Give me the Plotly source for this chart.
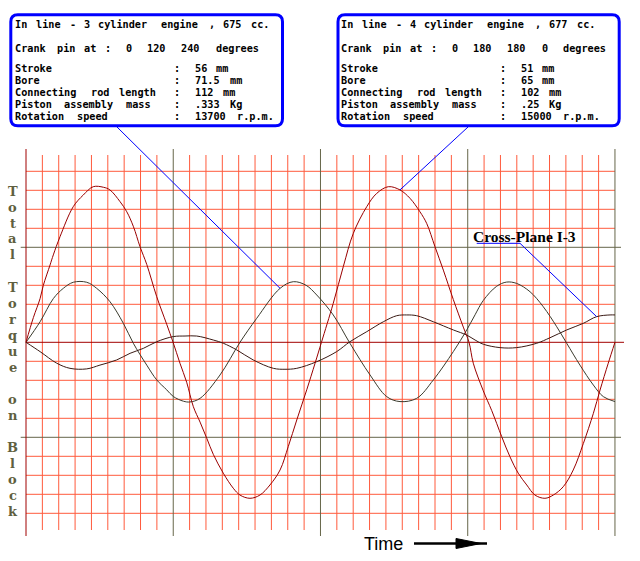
import re
import plotly.graph_objects as go

# ---------------- data (time in grid cells, torque in grid units) ----------------
# In-line 4 cylinder (red curve)
t_i4 = [0, 0.45, 0.86, 1.06, 1.47, 1.67, 2.08, 2.89, 3.50, 4.11,
        4.73, 5.13, 5.75, 6.16, 6.57, 6.97, 7.38, 7.99, 8.60, 8.99,
        9.41, 9.82, 10.23, 10.64, 11.05, 11.45, 12.06, 12.67, 13.08, 13.69,
        14.30, 14.91, 15.53, 16.03, 16.55, 17.16, 17.67, 18.06, 18.78, 19.40,
        20.01, 20.83, 21.44, 22.15, 22.86, 23.47, 24.08, 24.49, 25.00, 25.51,
        26.12, 26.73, 27.08, 27.34, 27.95, 28.47, 29.08, 29.58, 30.09, 30.61,
        31.11, 31.72, 32.23, 32.84, 33.45, 34.07, 34.68, 35.09, 35.59, 36.00]
torque_i4 = [0, 1.3, 2.3, 3.0, 4.07, 4.6, 5.56, 7.14, 7.75, 8.19,
             8.16, 8.02, 7.4, 6.87, 6.08, 5.03, 4.1, 2.4, 0.95, 0,
             -1.1, -2.1, -3.39, -4.2, -5.05, -5.9, -6.89, -7.68, -8.04, -8.21,
             -8.04, -7.51, -6.72, -5.49, -4.09, -2.5, -1.1, 0, 2.05, 4.0,
             5.74, 7.14, 7.84, 8.19, 8.02, 7.58, 6.87, 6.26, 5.03, 3.8,
             2.25, 0.8, 0, -1.1, -2.55, -3.6, -4.97, -6.02, -6.89, -7.51,
             -8.04, -8.21, -8.04, -7.6, -6.72, -5.32, -3.74, -2.51, -1.1, 0]

# In-line 3 cylinder
t_i3 = [0, 0.86, 1.67, 2.28, 2.89, 3.71, 4.32, 5.13, 5.95, 6.56,
        7.38, 7.99, 8.60, 9.00, 9.62, 10.02, 10.64, 11.86, 13.08, 14.10,
        15.53, 16.34, 17.12, 17.77, 18.78, 19.80, 21.03, 22.05, 22.86, 23.88,
        24.90, 26.12, 26.94, 27.45, 27.95, 28.77, 29.38, 29.99, 30.81, 31.62,
        32.44, 33.05, 33.86, 34.68, 35.29, 36.00]
torque_i3 = [0, 1.08, 2.3, 2.84, 3.16, 3.16, 2.84, 2.14, 1.0, -0.05,
             -1.2, -1.98, -2.5, -2.85, -3.1, -3.14, -2.95, -1.72, 0, 1.26,
             2.84, 3.19, 3.0, 2.49, 1.44, -0.05, -1.72, -2.86, -3.12, -2.95,
             -1.98, -0.49, 0.65, 1.45, 2.2, 2.95, 3.17, 3.1, 2.66, 1.87,
             0.82, -0.05, -1.2, -2.25, -2.86, -3.12]

# Cross-plane in-line 3
t_cp3 = [0, 0.86, 1.88, 2.69, 3.71, 4.52, 5.54, 6.36, 7.17, 7.99,
         9.00, 9.72, 10.43, 11.45, 12.06, 12.88, 13.89, 15.12, 15.83, 16.55,
         17.77, 18.99, 19.80, 20.83, 21.84, 22.66, 23.27, 23.88, 24.90, 26.12,
         26.94, 27.45, 27.95, 28.97, 29.99, 31.22, 32.03, 33.05, 34.07, 34.88,
         35.70, 36.00]
torque_cp3 = [0, -0.49, -1.1, -1.37, -1.4, -1.2, -0.93, -0.58, -0.32, 0.03,
              0.3, 0.33, 0.33, 0.12, -0.05, -0.4, -0.93, -1.37, -1.42, -1.37,
              -1.02, -0.49, 0.03, 0.56, 1.08, 1.4, 1.44, 1.4, 1.08, 0.65,
              0.38, 0.12, -0.1, -0.28, -0.28, -0.05, 0.24, 0.65, 1.0, 1.35,
              1.44, 1.44]

box_i3_title = "In line - 3 cylinder engine , 675 cc."
box_i3_crank = "Crank pin at :  0  120  240  degrees"
box_i3_rows = [("Stroke", "56 mm"), ("Bore", "71.5 mm"),
               ("Connecting rod length", "112 mm"),
               ("Piston assembly mass", ".333 Kg"),
               ("Rotation speed", "13700 r.p.m.")]

box_i4_title = "In line - 4 cylinder engine , 677 cc."
box_i4_crank = "Crank pin at :  0  180  180  0  degrees"
box_i4_rows = [("Stroke", "51 mm"), ("Bore", "65 mm"),
               ("Connecting rod length", "102 mm"),
               ("Piston assembly mass", ".25 Kg"),
               ("Rotation speed", "15000 r.p.m.")]

ylabel_words = ["Total", "Torque", "on", "Block"]
cross_label = "Cross-Plane I-3"
x_label = "Time"

# ---------------- layout helpers (pixel -> axis units) ----------------
W, H = 640, 561
X0, DX = 26.0, 16.36
Y0, DY = 342.3, 19.0


def X(px):
    return (px - X0) / DX


def Y(py):
    return (Y0 - py) / DY


RED = "#ff5a3c"
GRAY = "#66664a"
DARKRED = "#a00000"
OLIVE = "#5f5f40"
BLUE = "#0000ff"

fig = go.Figure()

fig.add_trace(go.Scatter(x=t_i3, y=torque_i3, mode="lines",
                         line=dict(color="#3a3a2c", width=1, shape="spline"),
                         hoverinfo="skip", showlegend=False))
fig.add_trace(go.Scatter(x=t_cp3, y=torque_cp3, mode="lines",
                         line=dict(color="#3a1a14", width=1, shape="spline"),
                         hoverinfo="skip", showlegend=False))
fig.add_trace(go.Scatter(x=t_i4, y=torque_i4, mode="lines",
                         line=dict(color="#9a0000", width=1, shape="spline"),
                         hoverinfo="skip", showlegend=False))

shapes = []


def seg(x0, y0, x1, y1, color, width=1, layer="below"):
    shapes.append(dict(type="line", x0=x0, y0=y0, x1=x1, y1=y1,
                       xref="x", yref="y", layer=layer,
                       line=dict(color=color, width=width)))


# minor grid
for k in range(1, 36):
    if k % 9:
        seg(k, Y(155), k, Y(530), RED)
for k in range(-9, 10):
    if k not in (0, 5, -5):
        seg(0, k, 36, k, RED)
# major grid
for k in (9, 18, 27, 36):
    seg(k, Y(149), k, Y(536), GRAY)
for k in (5, -5):
    seg(X(20.7), k, X(621), k, GRAY)
# axes
seg(0, Y(149), 0, Y(536), DARKRED)
seg(0, 0, X(624), 0, DARKRED)


def rrect(x0, y0, x1, y1, r):
    return (f"M {X(x0 + r)},{Y(y0)} L {X(x1 - r)},{Y(y0)} "
            f"Q {X(x1)},{Y(y0)} {X(x1)},{Y(y0 + r)} L {X(x1)},{Y(y1 - r)} "
            f"Q {X(x1)},{Y(y1)} {X(x1 - r)},{Y(y1)} L {X(x0 + r)},{Y(y1)} "
            f"Q {X(x0)},{Y(y1)} {X(x0)},{Y(y1 - r)} L {X(x0)},{Y(y0 + r)} "
            f"Q {X(x0)},{Y(y0)} {X(x0 + r)},{Y(y0)} Z")


for bx0, bx1 in ((10.8, 282.5), (338.0, 619.2)):
    shapes.append(dict(type="path", path=rrect(bx0, 14.7, bx1, 125.8, 7),
                       xref="x", yref="y", layer="above",
                       fillcolor="white", line=dict(color=BLUE, width=3)))

# connectors from boxes to curves
seg(X(117), Y(127), t_i3[20], torque_i3[20], BLUE, 1, "above")
seg(X(468), Y(127), t_i4[44], torque_i4[44], BLUE, 1, "above")
shapes.append(dict(type="path",
                   path=f"M {X(476.7)},{Y(243.3)} L {X(520)},{Y(243.3)} "
                        f"L {t_cp3[39]},{torque_cp3[39]}",
                   xref="x", yref="y", layer="above",
                   line=dict(color=BLUE, width=1)))

# time arrow
seg(X(414), Y(543.5), X(487), Y(543.5), "black", 2.5, "above")
shapes.append(dict(type="path",
                   path=f"M {X(456)},{Y(538.5)} L {X(481)},{Y(543.5)} "
                        f"L {X(456)},{Y(548.5)} Z",
                   xref="x", yref="y", layer="above",
                   fillcolor="black", line=dict(color="black", width=1)))

annotations = []
NB = "\u00a0"


def txt(s, px, py, size, family, color="black", xanchor="left", weight="bold"):
    annotations.append(dict(text=s.replace(" ", NB), x=X(px), y=Y(py),
                            xref="x", yref="y", showarrow=False,
                            xanchor=xanchor, yanchor="middle", borderpad=0,
                            font=dict(size=size, family=family, color=color,
                                      weight=weight)))


MONO = "DejaVu Sans Mono"
PITCH = 6.93      # character cell width of the box text, px
MSIZE = 10.2


def mono_line(line, left, py):
    # place each word at its character column so the grid of the
    # original fixed-pitch text is kept
    for m in re.finditer(r"\S+", line):
        txt(m.group(0), left + m.start() * PITCH, py, MSIZE, MONO)


row_y = [68.3, 80.25, 92.2, 104.15, 116.1]
for left, title, crank, rows in ((14.0, box_i3_title, box_i3_crank, box_i3_rows),
                                 (340.0, box_i4_title, box_i4_crank, box_i4_rows)):
    mono_line(title, left, 24.3)
    mono_line(crank, left, 48.0)
    for (lab, val), yy in zip(rows, row_y):
        mono_line(lab.ljust(23) + ":  " + val, left, yy)

# vertical y label, letter by letter
baselines = [[196, 212, 227.5, 243, 259],
             [292, 308, 324, 340, 356, 372],
             [404, 420],
             [452, 467.5, 484, 500, 516]]
for word, bl in zip(ylabel_words, baselines):
    for ch, b in zip(word, bl):
        txt(ch, 12.5, b - 4.5, 13, "DejaVu Serif", OLIVE, "center")

txt(cross_label, 471.5, 236.5, 15.5, "Liberation Serif", "black", "left")
txt(x_label, 383, 544, 18, "Liberation Sans", "black", "center", "normal")

fig.update_layout(
    width=W, height=H,
    margin=dict(l=0, r=0, t=0, b=0, pad=0),
    paper_bgcolor="white", plot_bgcolor="white",
    xaxis=dict(range=[X(0), X(W)], visible=False, fixedrange=True),
    yaxis=dict(range=[Y(H), Y(0)], visible=False, fixedrange=True),
    shapes=shapes, annotations=annotations, showlegend=False,
)

fig.write_html("out.html", config={"displayModeBar": False},
               post_script="document.body.style.margin='0';")
